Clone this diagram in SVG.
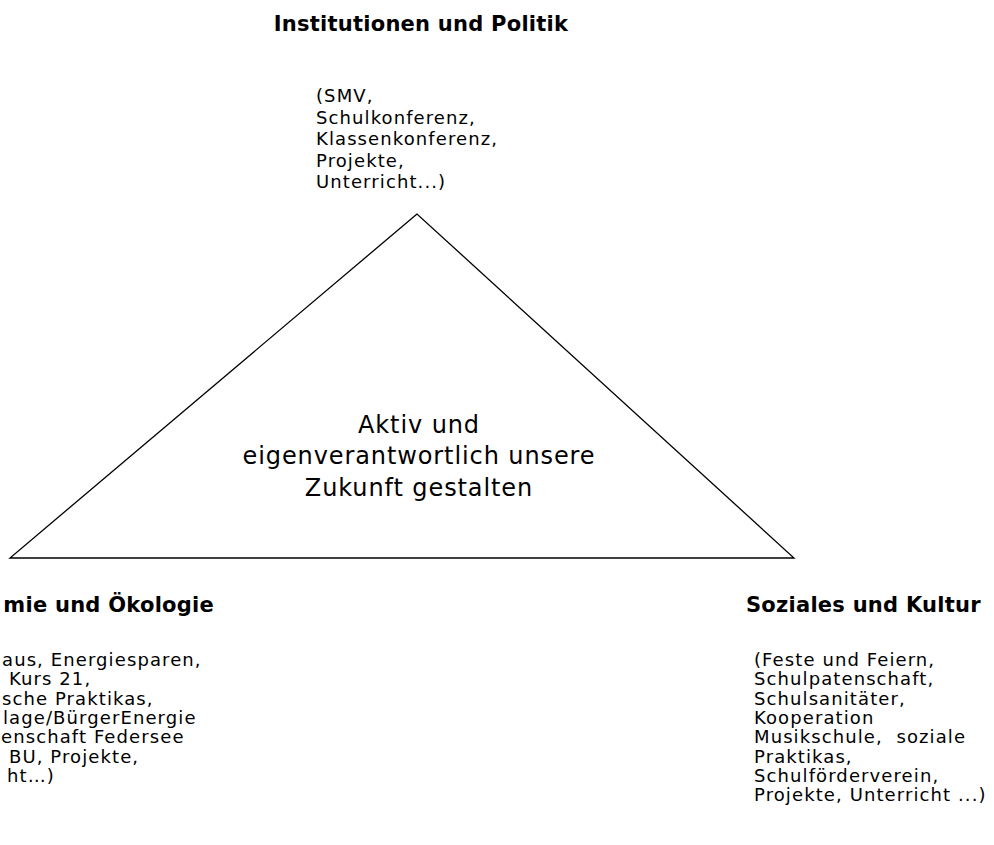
<svg xmlns="http://www.w3.org/2000/svg" width="994" height="845" viewBox="0 0 994 845">
<style>
.h{font-family:"DejaVu Sans","Liberation Sans",sans-serif;font-weight:bold;font-size:21px;letter-spacing:0.25px;fill:#000}
.t{font-family:"DejaVu Sans","Liberation Sans",sans-serif;font-size:18px;letter-spacing:1.1px;fill:#000}
.c{font-family:"DejaVu Sans","Liberation Sans",sans-serif;font-size:24px;letter-spacing:0.9px;fill:#000;text-anchor:middle}
</style>
<rect width="994" height="845" fill="#fff"/>
<g id="connectors">
<polygon points="417,214 10,558 794,558" fill="none" stroke="#000" stroke-width="1.3"/>
</g>
<g id="center">
<text class="c" x="419" y="433">Aktiv und</text>
<text class="c" x="419" y="464">eigenverantwortlich unsere</text>
<text class="c" x="419" y="496">Zukunft gestalten</text>
</g>
<g id="top">
<text class="h" x="421" y="31" text-anchor="middle">Institutionen und Politik</text>
<text class="t" x="316" y="102">(SMV,</text>
<text class="t" x="316" y="123.5">Schulkonferenz,</text>
<text class="t" x="316" y="145">Klassenkonferenz,</text>
<text class="t" x="316" y="166.5">Projekte,</text>
<text class="t" x="316" y="188">Unterricht...)</text>
</g>
<g id="left">
<text class="h" x="214" y="612" text-anchor="end">mie und Ökologie</text>
<text class="t" x="2" y="666">aus, Energiesparen,</text>
<text class="t" x="9" y="685.3">Kurs 21,</text>
<text class="t" x="2" y="704.6">sche Praktikas,</text>
<text class="t" x="3" y="723.9">lage/BürgerEnergie</text>
<text class="t" x="1" y="743.2">enschaft Federsee</text>
<text class="t" x="9" y="762.5">BU, Projekte,</text>
<text class="t" x="7" y="781.8">ht…)</text>
</g>
<g id="right">
<text class="h" x="746" y="612">Soziales und Kultur</text>
<text class="t" x="754" y="666">(Feste und Feiern,</text>
<text class="t" x="754" y="685.3">Schulpatenschaft,</text>
<text class="t" x="754" y="704.6">Schulsanitäter,</text>
<text class="t" x="754" y="723.9">Kooperation</text>
<text class="t" x="754" y="743.2" xml:space="preserve">Musikschule,  soziale</text>
<text class="t" x="754" y="762.5">Praktikas,</text>
<text class="t" x="754" y="781.8">Schulförderverein,</text>
<text class="t" x="754" y="801.1">Projekte, Unterricht ...)</text>
</g>
</svg>
